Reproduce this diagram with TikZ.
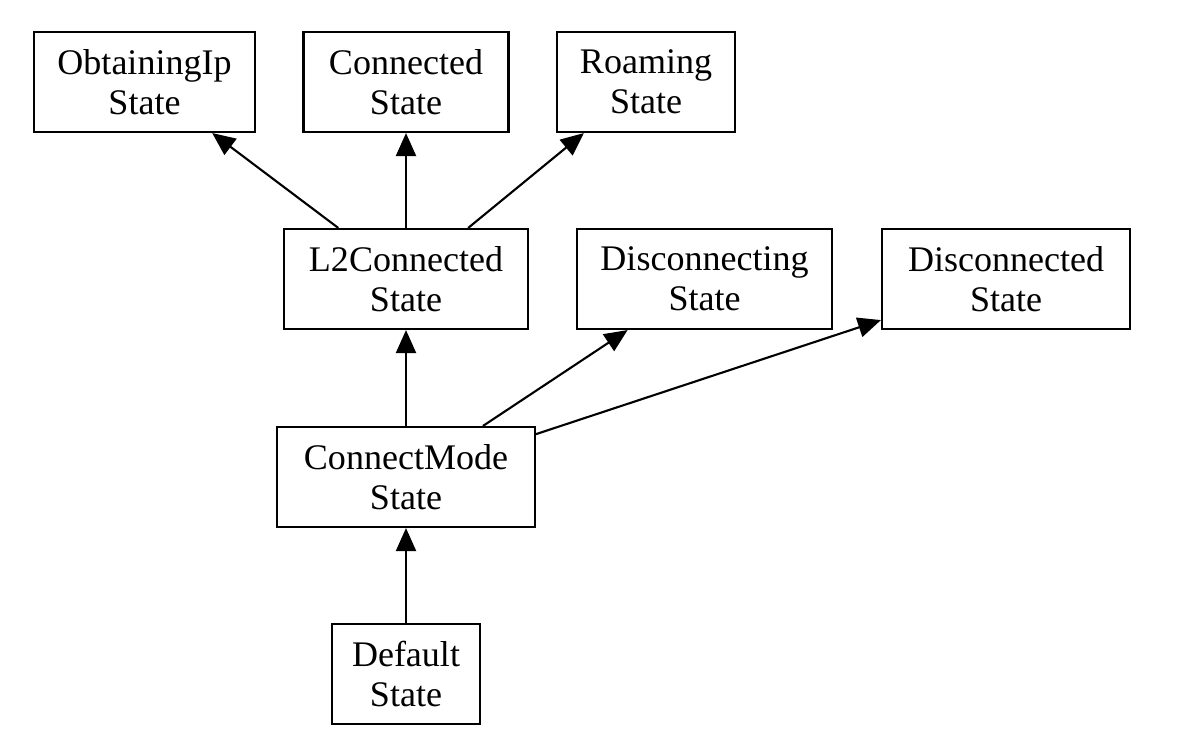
\documentclass[tikz,border=0pt]{standalone}
\usepackage{fontspec}
\setmainfont{Liberation Serif}
\usetikzlibrary{arrows.meta}
\begin{document}
\begin{tikzpicture}[x=0.02cm,y=-0.02cm,
  state/.style={draw, line width=1.2pt, align=center, inner sep=0pt,
    minimum height=2cm, font=\fontsize{20.5}{22.8}\selectfont},
  link/.style={line width=1.2pt, -{Triangle[length=0.46cm,width=0.4cm]}}]
\useasboundingbox (0,0) rectangle (1179,755);
\node[state, minimum width=4.42cm] (obtain) at (144.5,82) {ObtainingIp\\State};
\node[state, minimum width=4.1cm] (conn) at (406,82) {Connected\\State};
\node[state, minimum width=3.56cm] (roam) at (646,82) {Roaming\\State};
\node[state, minimum width=4.88cm] (l2) at (406,279) {L2Connected\\State};
\node[state, minimum width=5.1cm] (discing) at (704.5,279) {Disconnecting\\State};
\node[state, minimum width=4.96cm] (disced) at (1006,279) {Disconnected\\State};
\node[state, minimum width=5.16cm] (cmode) at (406,477) {ConnectMode\\State};
\node[state, minimum width=2.96cm] (default) at (406,674) {Default\\State};
\draw[link] (l2) -- (obtain);
\draw[link] (l2) -- (conn);
\draw[link] (l2) -- (roam);
\draw[link] (cmode) -- (l2);
\draw[link] (cmode) -- (discing);
\draw[link] (cmode) -- (disced);
\draw[link] (default) -- (cmode);
\end{tikzpicture}
\end{document}
